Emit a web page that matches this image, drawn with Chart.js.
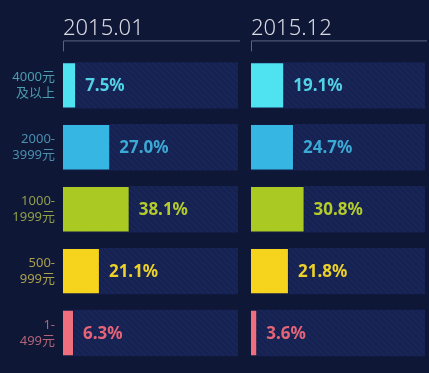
<!DOCTYPE html>
<html>
<head>
<meta charset="utf-8">
<script src="https://cdn.jsdelivr.net/npm/chart.js@4.4.0/dist/chart.umd.min.js"></script>
<style>
  html, body { margin: 0; padding: 0; background: #0f1737; }
  #wrap { position: relative; width: 429px; height: 373px; overflow: hidden; }
  .box { position: absolute; top: 0; height: 373px; }
  #leftBox { left: 0; width: 242px; }
  #rightBox { left: 245px; width: 184px; }
</style>
</head>
<body>
<div id="wrap">
  <div class="box" id="leftBox"><canvas id="left"></canvas></div>
  <div class="box" id="rightBox"><canvas id="right"></canvas></div>
</div>
<script>
// data
var categories = [["4000元", "及以上"], ["2000-", "3999元"], ["1000-", "1999元"], ["500-", "999元"], ["1-", "499元"]];
var periods = ["2015.01", "2015.12"];
var jan = [7.5, 27.0, 38.1, 21.1, 6.3];
var dec = [19.1, 24.7, 30.8, 21.8, 3.6];
var track = [100, 100, 100, 100, 100];

var barColors = ['#4fe3f2', '#36b6e2', '#abc923', '#f6d31c', '#ef6f7e'];
var valueColors = ['#52d2e6', '#3aa9d6', '#b3cc2c', '#ecd128', '#e66477'];
var labelColors = ['#4a9cae', '#4a8fae', '#919e48', '#aaa04c', '#af6478'];

Chart.defaults.font.family = "'Noto Sans', 'Noto Sans CJK SC', sans-serif";
Chart.defaults.animation = false;

function hatch(){
  var c = document.createElement('canvas');
  c.width = 6; c.height = 6;
  var g = c.getContext('2d');
  g.fillStyle = '#162252';
  g.fillRect(0, 0, 6, 6);
  g.strokeStyle = '#1c295d';
  g.lineWidth = 1;
  g.beginPath();
  g.moveTo(0, 0); g.lineTo(6, 6);
  g.moveTo(-3, 3); g.lineTo(3, 9);
  g.moveTo(3, -3); g.lineTo(9, 3);
  g.stroke();
  return g.createPattern(c, 'repeat');
}

var valueLabels = {
  id: 'valueLabels',
  afterDatasetsDraw: function(chart){
    var ctx = chart.ctx;
    var meta = chart.getDatasetMeta(1);
    ctx.save();
    ctx.font = 'bold 17px "Noto Sans", sans-serif';
    ctx.textBaseline = 'middle';
    ctx.textAlign = 'left';
    meta.data.forEach(function(bar, i){
      ctx.fillStyle = valueColors[i];
      ctx.fillText(chart.data.datasets[1].data[i].toFixed(1) + '%', bar.x + 9, bar.y + 1);
    });
    ctx.restore();
  }
};

var bracket = {
  id: 'bracket',
  afterDraw: function(chart){
    var ctx = chart.ctx, a = chart.chartArea;
    var y = a.top - 14;
    ctx.save();
    ctx.strokeStyle = '#5b6383';
    ctx.lineWidth = 1;
    ctx.beginPath();
    ctx.moveTo(a.left + 0.5, a.top - 3);
    ctx.lineTo(a.left + 0.5, y + 0.5);
    ctx.lineTo(a.right + 2, y + 0.5);
    ctx.stroke();
    ctx.restore();
  }
};

function makeChart(id, values, title, showLabels){
  var pattern = hatch();
  return new Chart(document.getElementById(id), {
    type: 'bar',
    data: {
      labels: categories,
      datasets: [{
        data: track,
        backgroundColor: pattern,
        borderWidth: 0,
        grouped: false,
        order: 2,
        barPercentage: 0.75,
        categoryPercentage: 1
      }, {
        data: values,
        backgroundColor: barColors,
        borderColor: 'rgba(0,0,0,0.25)',
        borderWidth: 1,
        grouped: false,
        order: 1,
        barPercentage: 0.75,
        categoryPercentage: 1
      }]
    },
    options: {
      indexAxis: 'y',
      responsive: true,
      maintainAspectRatio: false,
      layout: { padding: { top: 0, bottom: 9, left: showLabels ? 0 : 6, right: 4 } },
      plugins: {
        legend: { display: false },
        tooltip: { enabled: false },
        title: {
          display: true,
          text: title,
          align: 'start',
          fullSize: false,
          color: '#d8dae2',
          font: { size: 22, weight: '300' },
          padding: { top: 16, bottom: 12 }
        }
      },
      scales: {
        x: { display: false, min: 0, max: 100 },
        y: {
          display: showLabels,
          grid: { display: false, drawTicks: false },
          border: { display: false },
          afterFit: function(s){
            if (showLabels) s.width = 63;
            s.paddingTop = 0;
            s.paddingBottom = 0;
          },
          ticks: {
            color: function(c){ return labelColors[c.index]; },
            font: { size: 13 },
            padding: 8
          }
        }
      }
    },
    plugins: [valueLabels, bracket]
  });
}

makeChart('left', jan, periods[0], true);
makeChart('right', dec, periods[1], false);
</script>
</body>
</html>
